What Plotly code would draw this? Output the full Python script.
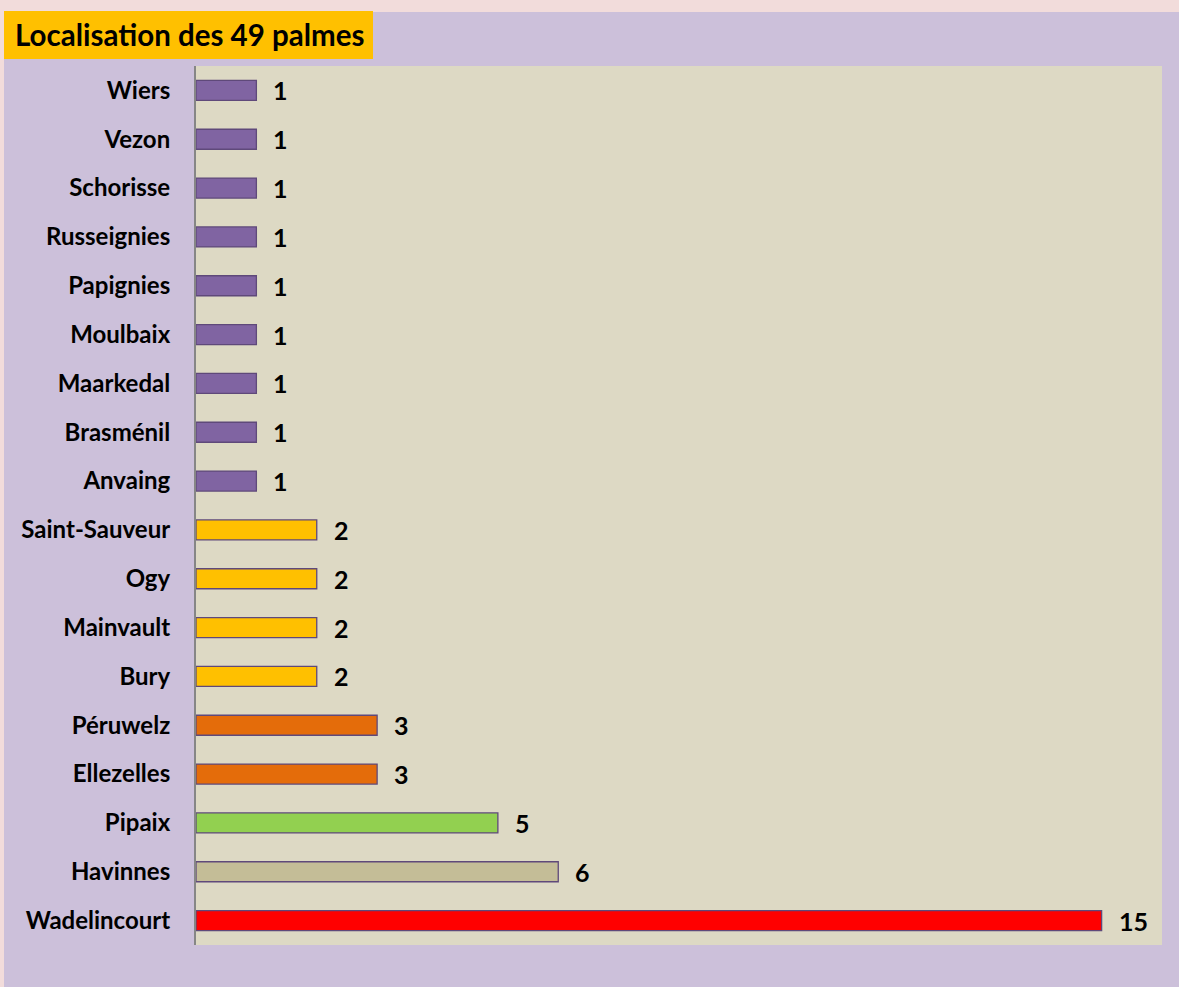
import plotly.graph_objects as go

# Data (top to bottom as shown)
communes = ["Wiers", "Vezon", "Schorisse", "Russeignies", "Papignies", "Moulbaix",
            "Maarkedal", "Brasménil", "Anvaing", "Saint-Sauveur", "Ogy", "Mainvault",
            "Bury", "Péruwelz", "Ellezelles", "Pipaix", "Havinnes", "Wadelincourt"]
palmes = [1, 1, 1, 1, 1, 1, 1, 1, 1, 2, 2, 2, 2, 3, 3, 5, 6, 15]
bar_colors = ["#8064A2"] * 9 + ["#FFC000"] * 4 + ["#E46C0A"] * 2 + ["#92D050", "#C4BD97", "#FF0000"]
title_text = "Localisation des 49 palmes"

# plot from bottom to top
cats = communes[::-1]
vals = palmes[::-1]
cols = bar_colors[::-1]

W, H = 1179, 987
L, R, T, B = 196, 17, 66, 42
pw, ph = W - L - R, H - T - B

def px_x(px):
    return (px - L) / pw

def px_y(py):
    return (H - B - py) / ph

FONT = "Lato"

fig = go.Figure()
fig.add_trace(go.Bar(
    x=vals, y=cats, orientation="h",
    marker=dict(color=cols, line=dict(color="#5F497A", width=1.3)),
    width=0.41,
    hoverinfo="x+y",
))

annotations = []
for c, v in zip(cats, vals):
    annotations.append(dict(
        x=v, y=c, xref="x", yref="y", text=f"<b>{v}</b>", showarrow=False,
        xanchor="left", xshift=15, font=dict(family=FONT, size=25, color="black"),
    ))

annotations.append(dict(
    x=px_x(13), y=px_y(35), xref="paper", yref="paper", xanchor="left", yanchor="middle",
    text=f"<b>{title_text}</b>", showarrow=False,
    font=dict(family=FONT, size=29.5, color="black"),
))

shapes = [
    dict(type="rect", xref="paper", yref="paper", x0=px_x(0), x1=px_x(W), y0=px_y(12), y1=px_y(0),
         fillcolor="#F2DCDB", line=dict(width=0), layer="below"),
    dict(type="rect", xref="paper", yref="paper", x0=px_x(0), x1=px_x(4), y0=px_y(H), y1=px_y(0),
         fillcolor="#F2DCDB", line=dict(width=0), layer="below"),
    dict(type="rect", xref="paper", yref="paper", x0=px_x(4), x1=px_x(373), y0=px_y(59), y1=px_y(11),
         fillcolor="#FFC000", line=dict(width=0), layer="below"),
]

fig.update_layout(
    width=W, height=H,
    margin=dict(l=L, r=R, t=T, b=B, pad=0),
    paper_bgcolor="#CCC0DA",
    plot_bgcolor="#DDD9C4",
    showlegend=False,
    annotations=annotations,
    shapes=shapes,
    font=dict(family=FONT, color="black"),
)
fig.update_xaxes(range=[0, 16], visible=False, showgrid=False, zeroline=False, fixedrange=True)
fig.update_yaxes(
    categoryorder="array", categoryarray=cats,
    showgrid=False, zeroline=False, ticks="",
    showline=True, linecolor="#868686", linewidth=2,
    tickfont=dict(family=FONT, size=24, color="black"),
    ticklabelstandoff=19,
    range=[-0.5, len(cats) - 0.5],
    tickmode="array", tickvals=cats, ticktext=[f"<b>{c}</b>" for c in cats],
)

fig.write_html("out.html", config={"displayModeBar": False},
               post_script="document.body.style.margin='0';document.body.style.background='#F2DCDB';")
